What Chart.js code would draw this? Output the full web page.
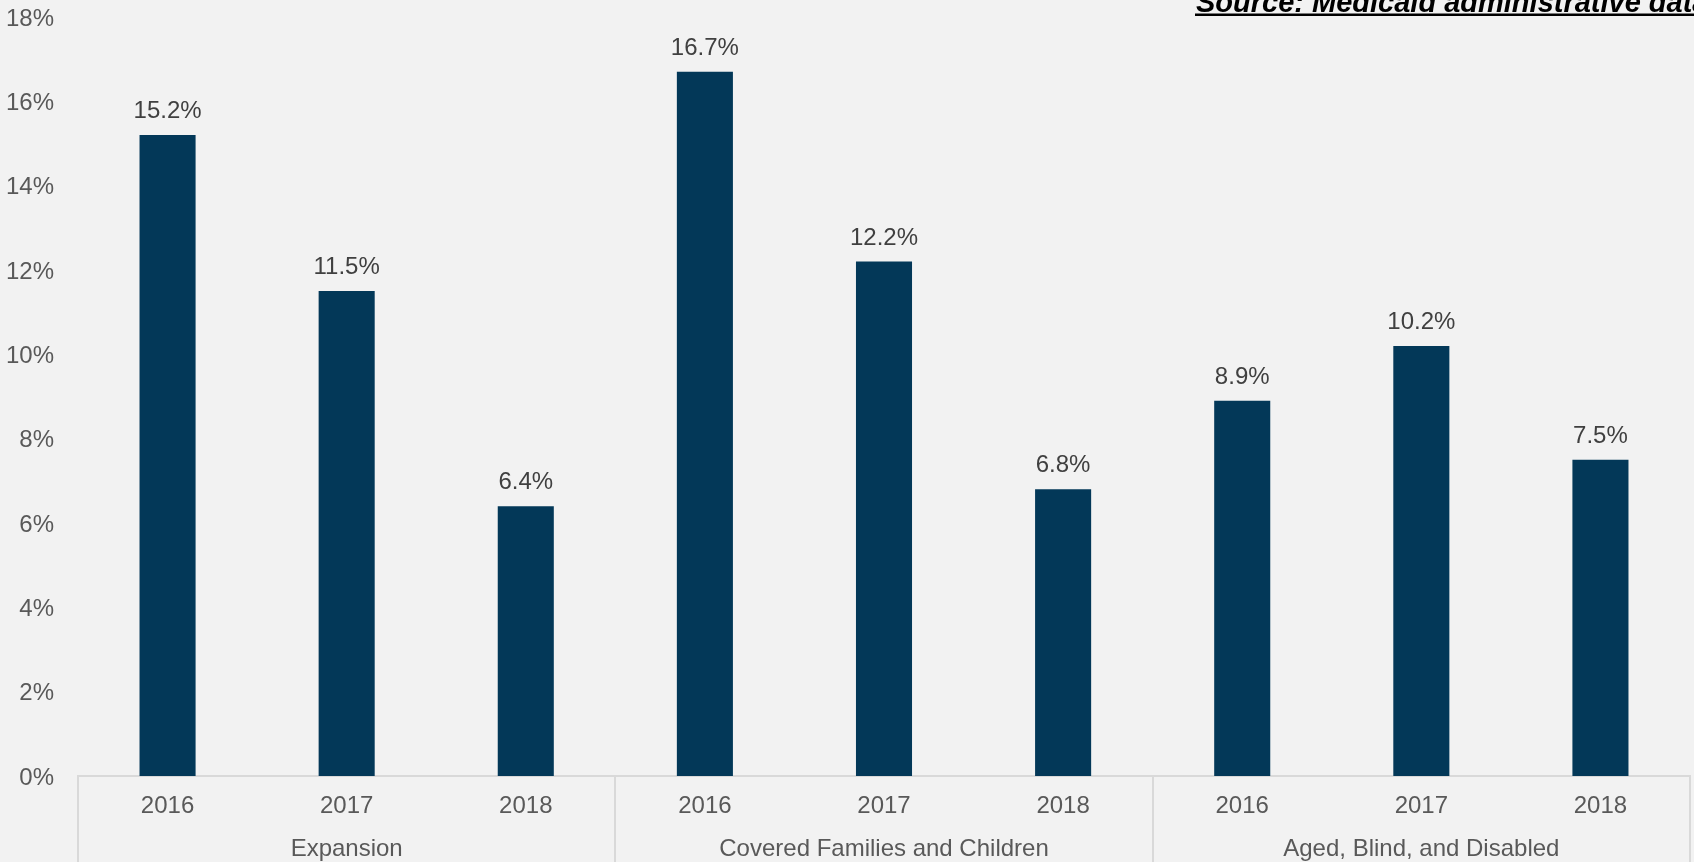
<!DOCTYPE html>
<html>
<head>
<meta charset="utf-8">
<script src="https://cdn.jsdelivr.net/npm/chart.js@4.4.1/dist/chart.umd.min.js"></script>
<style>
  html, body { margin: 0; padding: 0; background: #f2f2f2; }
  #wrap { width: 1694px; height: 862px; overflow: hidden; }
</style>
</head>
<body>
<div id="wrap"><canvas id="churnChart" width="1694" height="862"></canvas></div>
<script>
// eligibility groups and years shown under each group
const groups = ["Expansion", "Covered Families and Children", "Aged, Blind, and Disabled"];
const years = ["2016", "2017", "2018"];
// rate per group, in year order
const expansionRates = [15.2, 11.5, 6.4];
const familyRates = [16.7, 12.2, 6.8];
const abdRates = [8.9, 10.2, 7.5];
const yTicks = [0, 2, 4, 6, 8, 10, 12, 14, 16, 18];

const FONT = "'Liberation Sans', Arial, sans-serif";
const AXIS_GREY = "#d9d9d9";
const TEXT_GREY = "#595959";

const labels = groups.flatMap(() => years);
const values = [...expansionRates, ...familyRates, ...abdRates];

// value labels above each bar
const barLabels = {
    id: "barLabels",
    afterDatasetsDraw(chart) {
        const ctx = chart.ctx;
        const meta = chart.getDatasetMeta(0);
        ctx.save();
        ctx.font = "24px " + FONT;
        ctx.fillStyle = "#404040";
        ctx.textAlign = "center";
        ctx.textBaseline = "alphabetic";
        meta.data.forEach((bar, i) => {
            ctx.fillText(values[i].toFixed(1) + "%", bar.x, bar.y - 17);
        });
        ctx.restore();
    }
};

// vertical dividers between the groups, running through both label rows
const groupDividers = {
    id: "groupDividers",
    afterDraw(chart) {
        const ctx = chart.ctx;
        const xs = chart.scales.x;
        const half = (xs.getPixelForValue(1) - xs.getPixelForValue(0)) / 2;
        ctx.save();
        ctx.strokeStyle = AXIS_GREY;
        ctx.lineWidth = 2;
        ctx.beginPath();
        for (let g = 0; g <= groups.length; g++) {
            const px = Math.round(xs.getPixelForValue(g * years.length) - half);
            ctx.moveTo(px, chart.chartArea.bottom);
            ctx.lineTo(px, chart.height);
        }
        ctx.stroke();
        ctx.restore();
    }
};

// source note, top right, underlined
const sourceNote = {
    id: "sourceNote",
    afterDraw(chart) {
        const ctx = chart.ctx;
        const text = "Source: Medicaid administrative data";
        const x = 1196, y = 12;
        ctx.save();
        ctx.font = "italic bold 29px " + FONT;
        ctx.fillStyle = "#000000";
        ctx.textAlign = "left";
        ctx.textBaseline = "alphabetic";
        ctx.fillText(text, x, y);
        const w = ctx.measureText(text).width;
        ctx.fillRect(x - 1, y + 1.5, w, 2.5);
        ctx.restore();
    }
};

new Chart(document.getElementById("churnChart"), {
    type: "bar",
    data: {
        labels: labels,
        datasets: [{
            data: values,
            backgroundColor: "#033858",
            categoryPercentage: 1,
            barPercentage: 0.313
        }]
    },
    options: {
        responsive: false,
        animation: false,
        devicePixelRatio: 1,
        layout: { padding: { top: 17, right: 4, left: 0, bottom: 0 } },
        plugins: {
            legend: { display: false },
            tooltip: { enabled: false }
        },
        scales: {
            y: {
                min: 0,
                max: 18,
                afterBuildTicks: (scale) => { scale.ticks = yTicks.map(v => ({ value: v })); },
                afterFit: (scale) => {
                    scale.width = 78;
                    scale.paddingTop = 0;
                    scale.paddingBottom = 0;
                },
                grid: { display: false, drawTicks: false },
                border: { display: false },
                ticks: {
                    padding: 24,
                    labelOffset: 2,
                    color: TEXT_GREY,
                    font: { family: FONT, size: 24 },
                    callback: (v) => v + "%"
                }
            },
            x: {
                position: "bottom",
                weight: 0,
                offset: true,
                afterFit: (scale) => { scale.height = 43; },
                border: { display: true, color: AXIS_GREY, width: 2 },
                grid: { display: false, drawTicks: false },
                ticks: {
                    padding: 15.6,
                    autoSkip: false,
                    maxRotation: 0,
                    color: TEXT_GREY,
                    font: { family: FONT, size: 24 }
                }
            },
            x2: {
                type: "category",
                position: "bottom",
                weight: 1,
                labels: groups,
                offset: true,
                afterFit: (scale) => { scale.height = 43; },
                border: { display: false },
                grid: { display: false, drawTicks: false },
                ticks: {
                    padding: 16.4,
                    autoSkip: false,
                    maxRotation: 0,
                    color: TEXT_GREY,
                    font: { family: FONT, size: 24 }
                }
            }
        }
    },
    plugins: [barLabels, groupDividers, sourceNote]
});
</script>
</body>
</html>
